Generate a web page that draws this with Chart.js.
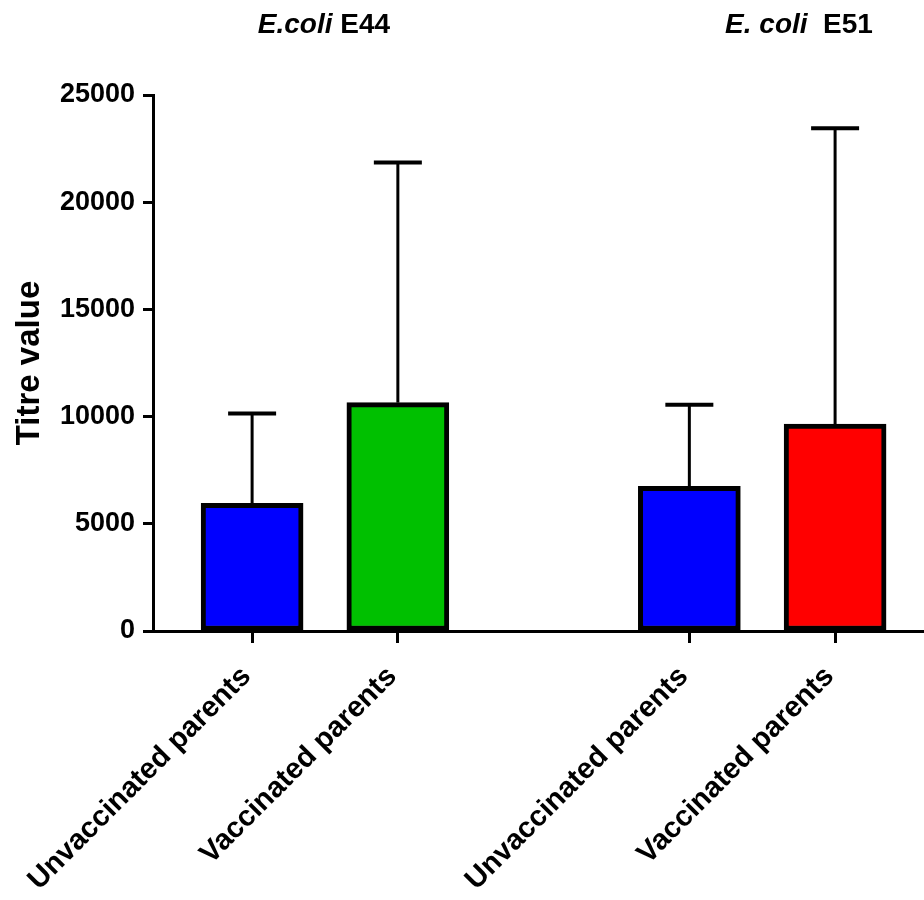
<!DOCTYPE html>
<html>
<head>
<meta charset="utf-8">
<title>Titre value</title>
<script src="https://cdn.jsdelivr.net/npm/chart.js@4.4.0/dist/chart.umd.min.js"></script>
<style>
  html, body { margin: 0; padding: 0; background: #fff; overflow: hidden; }
  #wrap { position: relative; width: 924px; height: 900px; }
  .grp-title {
    position: absolute;
    top: 10px;
    font: bold 28px "Liberation Sans", Arial, sans-serif;
    line-height: 1;
    white-space: pre;
    color: #000;
    transform: translateX(-50%);
  }
</style>
</head>
<body>
<div id="wrap">
  <canvas id="titreChart" width="924" height="900"></canvas>
  <div class="grp-title" style="left:324px"><i>E.coli</i> E44</div>
  <div class="grp-title" style="left:799px"><i>E. coli</i>  E51</div>
</div>

<script>
// chart data
const categories = ['Unvaccinated parents', 'Vaccinated parents', 'Unvaccinated parents', 'Vaccinated parents'];
const xPositions = [1, 2, 4, 5];
const titreMeans = [5950, 10650, 6750, 9650];
const titreErrorTops = [10150, 21850, 10550, 23450];
const barColors = ['#0000ff', '#00c000', '#0000ff', '#ff0000'];
const yTicks = [0, 5000, 10000, 15000, 20000, 25000];

const FONT = '"Liberation Sans", Arial, sans-serif';

// error bars (upper only, with cap)
const errorBarPlugin = {
  id: 'errorBars',
  afterDatasetsDraw(chart) {
    const ctx = chart.ctx;
    const yScale = chart.scales.y;
    const meta = chart.getDatasetMeta(0);
    ctx.save();
    ctx.strokeStyle = '#000';
    meta.data.forEach((bar, i) => {
      const top = yScale.getPixelForValue(titreErrorTops[i]);
      ctx.lineWidth = 3;
      ctx.beginPath();
      ctx.moveTo(bar.x, bar.y);
      ctx.lineTo(bar.x, top);
      ctx.stroke();
      ctx.lineWidth = 4;
      ctx.beginPath();
      ctx.moveTo(bar.x - 24, top);
      ctx.lineTo(bar.x + 24, top);
      ctx.stroke();
    });
    ctx.restore();
  }
};

new Chart(document.getElementById('titreChart').getContext('2d'), {
  type: 'bar',
  data: {
    datasets: [{
      data: xPositions.map((x, i) => ({ x: x, y: titreMeans[i] })),
      backgroundColor: barColors,
      borderColor: '#000',
      borderWidth: 5,
      borderSkipped: false,
      barThickness: 102
    }]
  },
  options: {
    responsive: false,
    animation: false,
    layout: { padding: { top: 95, left: 0, right: 0, bottom: 0 } },
    plugins: {
      legend: { display: false },
      tooltip: { enabled: false }
    },
    scales: {
      x: {
        type: 'linear',
        min: 0.32,
        max: 5.61,
        offset: false,
        afterFit: s => { s.height = 269; },
        afterBuildTicks: s => { s.ticks = xPositions.map(v => ({ value: v })); },
        ticks: {
          autoSkip: false,
          minRotation: 45,
          maxRotation: 45,
          padding: 9,
          color: '#000',
          font: { family: FONT, size: 29, weight: 'bold', lineHeight: 1.4 },
          // trailing space nudges the rotated label a bit left, as in the original
          callback: (v, i) => categories[i] + ' '
        },
        grid: { offset: false, drawOnChartArea: false, drawTicks: true, tickLength: 12, tickWidth: 3, tickColor: '#000' },
        border: { display: true, color: '#000', width: 3 }
      },
      y: {
        min: 0,
        max: 25000,
        afterFit: s => { s.width = 153; },
        afterBuildTicks: s => { s.ticks = yTicks.map(v => ({ value: v })); },
        ticks: {
          padding: 8,
          color: '#000',
          font: { family: FONT, size: 27, weight: 'bold' },
          callback: v => String(v)
        },
        grid: { drawOnChartArea: false, drawTicks: true, tickLength: 10, tickWidth: 3, tickColor: '#000' },
        border: { display: true, color: '#000', width: 3 },
        title: {
          display: true,
          text: 'Titre value',
          color: '#000',
          font: { family: FONT, size: 33, weight: 'bold' },
          padding: { top: 10, bottom: 0 }
        }
      }
    }
  },
  plugins: [errorBarPlugin]
});
</script>
</body>
</html>
